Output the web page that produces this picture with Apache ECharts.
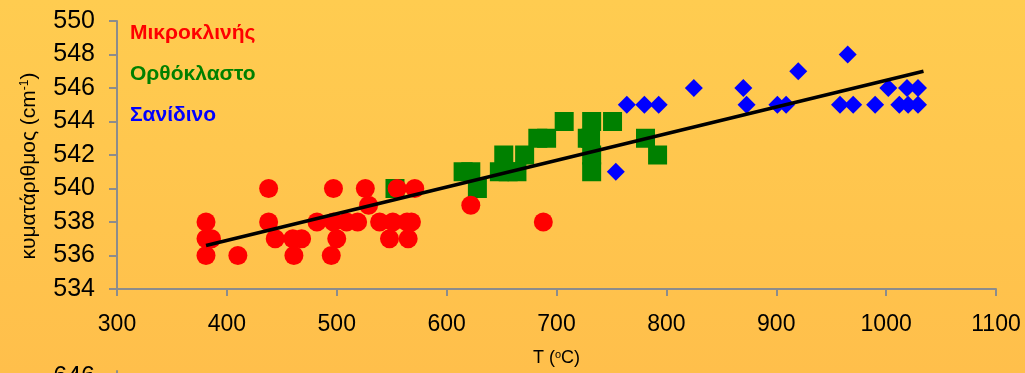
<!DOCTYPE html>
<html>
<head>
<meta charset="utf-8">
<script src="https://cdn.jsdelivr.net/npm/echarts@6/dist/echarts.min.js"></script>
<style>
  html, body { margin: 0; padding: 0; }
  body { width: 1025px; height: 373px; overflow: hidden;
         background: linear-gradient(to bottom, #FFCC50 0%, #FFBF4B 100%); }
  #chart { width: 1025px; height: 373px; }
</style>
</head>
<body>
<div id="chart"></div>
<script>
// Raman band position versus temperature for three feldspar types
const seriesNames = ['Μικροκλινής', 'Ορθόκλαστο', 'Σανίδινο'];

// [T (°C), wavenumber (cm-1)]
const microcline = [
  [381, 538], [381, 537], [386, 537], [381, 536], [410, 536],
  [438, 540], [438, 538], [444, 537], [460, 537], [468, 537],
  [461, 536], [482, 538], [497, 540], [497, 538], [509, 538],
  [519, 538], [500, 537], [495, 536], [526, 540], [529, 539],
  [539, 538], [551, 538], [548, 537], [555, 540], [564, 538],
  [568, 538], [565, 537], [571, 540], [622, 539], [688, 538]
];
const orthoclase = [
  [553, 540], [615, 541], [622, 541], [628, 540], [648, 541],
  [656, 541], [664, 541], [652, 542], [671, 542], [683, 543],
  [691, 543], [707, 544], [728, 543], [731, 543], [732, 544],
  [732, 542], [732, 541], [751, 544], [781, 543], [792, 542]
];
const sanidine = [
  [754, 541], [764, 545], [780, 545], [793, 545], [825, 546],
  [870, 546], [873, 545], [901, 545], [909, 545], [920, 547],
  [965, 548], [958, 545], [970, 545], [990, 545], [1002, 546],
  [1019, 546], [1029, 546], [1012, 545], [1020, 545], [1029, 545]
];
// linear trend through all points (end points)
const trendLine = [[381, 536.6], [1034, 547.0]];

const xTicks = { min: 300, max: 1100, step: 100 };
const yTicks = { min: 534, max: 550, step: 2 };
// upper end of the wavenumber scale of the panel below
const lowerPanelY = { min: 632, max: 648, step: 2 };

const axisGrey = '#8C8C8C';
const labelFont = 'Liberation Sans, Arial, sans-serif';
const plainNumber = v => String(v);

const chart = echarts.init(document.getElementById('chart'), null, { renderer: 'canvas' });

chart.setOption({
  backgroundColor: 'transparent',
  animation: false,
  legend: {
    orient: 'vertical',
    left: 120,
    top: 18,
    itemWidth: 0,
    itemHeight: 0,
    itemGap: 20,
    icon: 'none',
    selectedMode: false,
    textStyle: { fontFamily: labelFont, fontSize: 21, fontWeight: 'bold' },
    data: [
      { name: seriesNames[0], textStyle: { color: '#FF0000' } },
      { name: seriesNames[1], textStyle: { color: '#008000' } },
      { name: seriesNames[2], textStyle: { color: '#0000FF' } }
    ]
  },
  graphic: [{
    type: 'text',
    x: 29,
    y: 166,
    rotation: Math.PI / 2,
    style: {
      text: '{a|κυματάριθμος (cm}{s|-1}{a|)}',
      align: 'center',
      verticalAlign: 'middle',
      rich: {
        a: { fontFamily: labelFont, fontSize: 21, fill: '#000' },
        s: { fontFamily: labelFont, fontSize: 12, fill: '#000', verticalAlign: 'top', padding: [0, 0, 9, 0] }
      }
    }
  }],
  grid: [
    { left: 117, right: 29, top: 21, bottom: 84 },
    { left: 117, right: 29, top: 371, height: 200 }
  ],
  xAxis: [{
    gridIndex: 0,
    type: 'value',
    min: xTicks.min, max: xTicks.max, interval: xTicks.step,
    name: '{a|T (}{s|o}{a|C)}',
    nameLocation: 'middle',
    nameGap: 60,
    nameTextStyle: {
      rich: {
        a: { fontFamily: labelFont, fontSize: 18, color: '#000' },
        s: { fontFamily: labelFont, fontSize: 11, color: '#000', verticalAlign: 'top', padding: [0, 0, 8, 0] }
      }
    },
    splitLine: { show: false },
    axisLine: { show: true, onZero: false, lineStyle: { color: axisGrey, width: 2 } },
    axisTick: { show: true, length: 7, lineStyle: { color: axisGrey, width: 2 } },
    axisLabel: { margin: 24, color: '#000', fontFamily: labelFont, fontSize: 23, formatter: plainNumber }
  }, {
    gridIndex: 1,
    type: 'value',
    min: xTicks.min, max: xTicks.max,
    show: false
  }],
  yAxis: [{
    gridIndex: 0,
    type: 'value',
    min: yTicks.min, max: yTicks.max, interval: yTicks.step,
    splitLine: { show: false },
    axisLine: { show: true, onZero: false, lineStyle: { color: axisGrey, width: 2 } },
    axisTick: { show: true, length: 8, lineStyle: { color: axisGrey, width: 2 } },
    axisLabel: { margin: 22, color: '#000', fontFamily: labelFont, fontSize: 25, formatter: plainNumber }
  }, {
    gridIndex: 1,
    type: 'value',
    min: lowerPanelY.min, max: lowerPanelY.max, interval: lowerPanelY.step,
    splitLine: { show: false },
    axisLine: { show: true, onZero: false, lineStyle: { color: axisGrey, width: 2 } },
    axisTick: { show: true, length: 8, lineStyle: { color: axisGrey, width: 2 } },
    axisLabel: { margin: 22, color: '#000', fontFamily: labelFont, fontSize: 25, formatter: plainNumber }
  }],
  series: [
    {
      name: seriesNames[1],
      type: 'scatter',
      data: orthoclase,
      symbol: 'rect',
      symbolSize: 19,
      itemStyle: { color: '#008000', opacity: 1 },
      z: 2
    },
    {
      name: seriesNames[0],
      type: 'scatter',
      data: microcline,
      symbol: 'circle',
      symbolSize: 19,
      itemStyle: { color: '#FF0000', opacity: 1 },
      z: 3
    },
    {
      name: seriesNames[2],
      type: 'scatter',
      data: sanidine,
      symbol: 'diamond',
      symbolSize: 18,
      itemStyle: { color: '#0000FF', opacity: 1 },
      z: 4
    },
    {
      name: 'trend',
      type: 'line',
      data: trendLine,
      symbol: 'none',
      lineStyle: { color: '#000', width: 3.5 },
      z: 5
    }
  ]
});
</script>
</body>
</html>
